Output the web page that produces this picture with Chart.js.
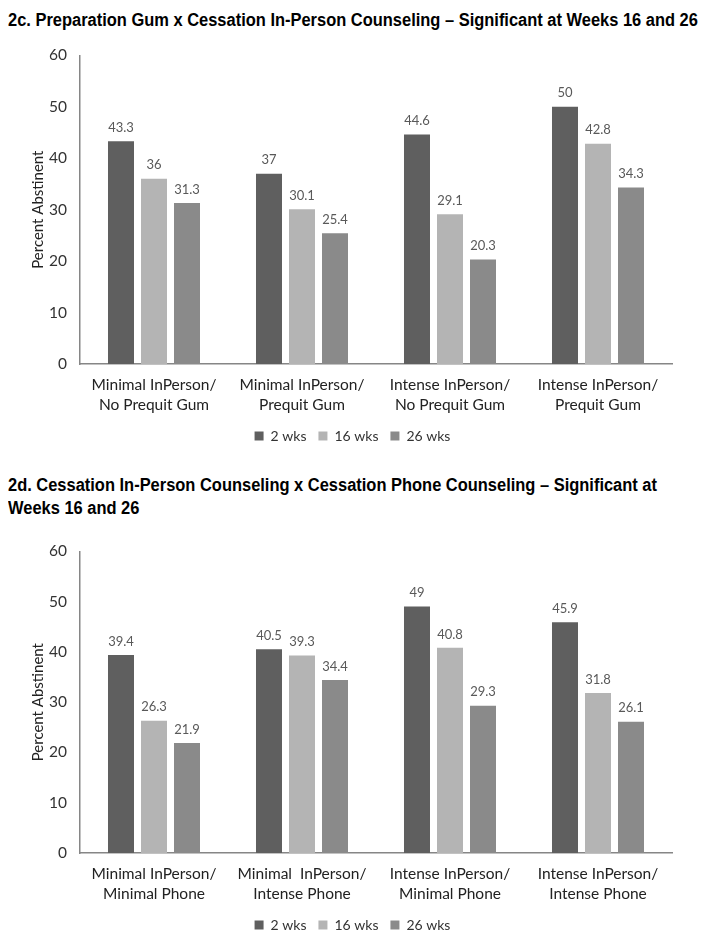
<!DOCTYPE html>
<html>
<head>
<meta charset="utf-8">
<script src="https://cdn.jsdelivr.net/npm/chart.js@4.4.1/dist/chart.umd.min.js"></script>
<style>
  html, body { margin: 0; padding: 0; background: #fff; overflow: hidden; }
  body { width: 705px; height: 938px; position: relative; }
  .title {
    position: absolute; left: 8px; white-space: nowrap;
    font-family: "Liberation Sans Narrow", "Arial Narrow", "Liberation Sans", Arial, sans-serif;
    font-weight: bold; font-size: 18px; line-height: 23px; color: #000;
    transform-origin: 0 0;
  }
  canvas { position: absolute; left: 0; }
</style>
</head>
<body>
<div class="title" id="titleC" style="top:9px;">2c. Preparation Gum x Cessation In-Person Counseling – Significant at Weeks 16 and 26</div>
<canvas id="chartC" width="705" height="432" style="top:33px;"></canvas>
<div class="title" id="titleD" style="top:474px;">2d. Cessation In-Person Counseling x Cessation Phone Counseling – Significant at<br>Weeks 16 and 26</div>
<canvas id="chartD" width="705" height="420" style="top:529px;"></canvas>
<script>
// series names
const seriesNames = ['2 wks', '16 wks', '26 wks'];
const seriesColors = ['#5f5f5f', '#b4b4b4', '#8a8a8a'];

// 2c
const gumLabels = [
  ['Minimal InPerson/', 'No Prequit Gum'],
  ['Minimal InPerson/', 'Prequit Gum'],
  ['Intense InPerson/', 'No Prequit Gum'],
  ['Intense InPerson/', 'Prequit Gum']
];
const gum2wks = [43.3, 37, 44.6, 50];
const gum16wks = [36, 30.1, 29.1, 42.8];
const gum26wks = [31.3, 25.4, 20.3, 34.3];

// 2d
const phoneLabels = [
  ['Minimal InPerson/', 'Minimal Phone'],
  ['Minimal  InPerson/', 'Intense Phone'],
  ['Intense InPerson/', 'Minimal Phone'],
  ['Intense InPerson/', 'Intense Phone']
];
const phone2wks = [39.4, 40.5, 49, 45.9];
const phone16wks = [26.3, 39.3, 40.8, 31.8];
const phone26wks = [21.9, 34.4, 29.3, 26.1];

const yTicks = [0, 10, 20, 30, 40, 50, 60];

// squeeze the bold titles to a narrow look (no narrow font installed)
const tC = document.getElementById('titleC');
const squeeze = 690 / tC.offsetWidth;
if (squeeze < 1) {
  tC.style.transform = 'scaleX(' + squeeze + ')';
  document.getElementById('titleD').style.transform = 'scaleX(' + squeeze + ')';
}

// value labels above bars
const barValues = {
  id: 'barValues',
  afterDatasetsDraw(chart) {
    const ctx = chart.ctx;
    ctx.save();
    ctx.font = '13px Lato, "Open Sans", sans-serif';
    ctx.fillStyle = '#595959';
    ctx.textAlign = 'center';
    ctx.textBaseline = 'bottom';
    chart.data.datasets.forEach((ds, i) => {
      chart.getDatasetMeta(i).data.forEach((bar, j) => {
        ctx.fillText(String(ds.data[j]), bar.x, bar.y - 7);
      });
    });
    ctx.restore();
  }
};

function makeChart(id, labels, s2, s16, s26, bottomPad) {
  const sets = [s2, s16, s26];
  return new Chart(document.getElementById(id), {
    type: 'bar',
    data: {
      labels: labels,
      datasets: sets.map((d, i) => ({
        label: seriesNames[i],
        data: d,
        backgroundColor: seriesColors[i],
        categoryPercentage: 0.669,
        barPercentage: 0.788
      }))
    },
    plugins: [barValues],
    options: {
      responsive: false,
      animation: false,
      devicePixelRatio: 1,
      layout: { padding: { top: 15, left: 0, right: 0, bottom: bottomPad } },
      plugins: {
        title: { display: false },
        tooltip: { enabled: false },
        legend: {
          position: 'bottom',
          labels: {
            boxWidth: 9, boxHeight: 9, padding: 12,
            color: '#333',
            font: { family: 'Lato, "Open Sans", sans-serif', size: 14 }
          }
        }
      },
      scales: {
        x: {
          grid: { display: false, drawTicks: false },
          border: { display: true, color: '#868686', width: 1.5 },
          ticks: {
            color: '#222', padding: 11, maxRotation: 0, autoSkip: false,
            font: { family: 'Lato, "Open Sans", sans-serif', size: 15.5, lineHeight: 1.3 }
          },
          afterFit(s) { s.height = 53; }
        },
        y: {
          min: 0, max: 60,
          grid: { display: false, drawTicks: false },
          border: { display: true, color: '#868686', width: 1.5 },
          afterBuildTicks(s) { s.ticks = yTicks.map(v => ({ value: v })); },
          ticks: {
            color: '#333', padding: 13,
            font: { family: 'Lato, "Open Sans", sans-serif', size: 15.5 }
          },
          title: {
            display: true, text: 'Percent Abstinent', color: '#222',
            padding: { top: 29, bottom: 0 },
            font: { family: 'Lato, "Open Sans", sans-serif', size: 15, lineHeight: 1.2 }
          },
          afterFit(s) { s.width = 80; }
        },
        yRight: {
          position: 'right',
          grid: { display: false, drawTicks: false },
          border: { display: false },
          ticks: { display: false },
          afterFit(s) { s.width = 33; }
        }
      }
    }
  });
}

makeChart('chartC', gumLabels, gum2wks, gum16wks, gum26wks, 12);
makeChart('chartD', phoneLabels, phone2wks, phone16wks, phone26wks, 7);
</script>
</body>
</html>
